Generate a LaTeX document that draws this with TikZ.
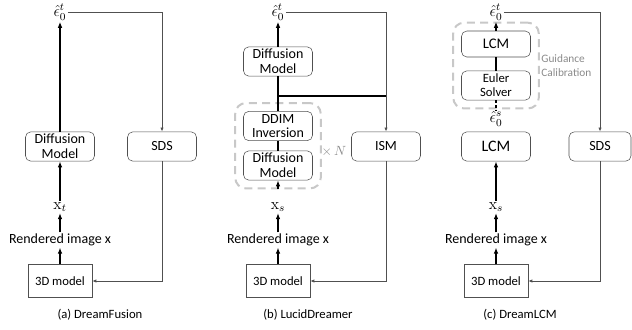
\documentclass[tikz,border=0pt]{standalone}
\usepackage{amsmath,amssymb}
\usepackage[no-math]{fontspec}
\setmainfont{Carlito}
\usepackage{tikz}
\usetikzlibrary{arrows.meta,positioning,calc,fit}
\definecolor{linegray}{HTML}{505050}
\definecolor{loopgray}{HTML}{C8C8C8}
\definecolor{notegray}{HTML}{8A8A8A}

\begin{document}
\begin{tikzpicture}[x=0.75pt,y=-0.75pt,
    blk/.style={draw=linegray,rounded corners=4pt,align=center,inner sep=0pt,
      minimum width=51.75pt,minimum height=22pt,font=\fontsize{10.5}{11}\selectfont},
    mdl/.style={draw=linegray,inner sep=0pt,minimum width=48pt,minimum height=25pt,
      font=\fontsize{9.5}{11}\selectfont},
    lbl/.style={inner sep=1pt,font=\fontsize{10.5}{12}\selectfont},
    sym/.style={inner sep=1pt,font=\fontsize{12}{14}\selectfont},
    subcap/.style={font=\fontsize{9.5}{11}\selectfont},
    dashbox/.style={draw=loopgray,line width=1.5pt,dash pattern=on 6pt off 4pt,
      rounded corners=8pt,inner sep=6pt},
    flow/.style={line width=1.1pt,-{Latex[length=4.5pt,width=3.5pt]}},
    link/.style={linegray,line width=0.6pt},
    back/.style={link,-{Latex[length=3pt,width=2.5pt]}}]
  \useasboundingbox (0,0) rectangle (632,329);

  % (a) DreamFusion
  \node[sym] (epsA) at (60,12) {$\hat{\epsilon}_0^t$};
  \node[blk] (diffA) at (60,146.5) {Diffusion\\Model};
  \node[blk] (sdsA) at (162,146.5) {SDS};
  \node[sym] (xA) at (60,207) {$\mathrm{x}_t$};
  \node[lbl] (renA) at (60,240) {Rendered image x};
  \node[mdl] (modA) at (60,281) {3D model};
  \node[subcap] (capA) at (100,315) {(a) DreamFusion};
  \draw[flow] (diffA) -- (epsA);
  \draw[flow] (xA) -- (diffA);
  \draw[flow,line width=0.8pt] (renA) -- (xA);
  \draw[flow,line width=0.8pt] (modA) -- (renA);
  \draw[back] (epsA) -| (sdsA);
  \draw[back] (sdsA) |- (modA);

  % (b) LucidDreamer
  \node[sym] (epsB) at (278,12) {$\hat{\epsilon}_0^t$};
  \node[blk] (diffB) at (278,61.5) {Diffusion\\Model};
  \node[blk] (ddimB) at (278,126) {DDIM\\Inversion};
  \node[blk] (diffLoB) at (278,165.5) {Diffusion\\Model};
  \node[dashbox,fit=(ddimB)(diffLoB)] (loopB) {};
  \node[text=notegray,font=\fontsize{10}{12}\selectfont] (repB) at (334,151) {$\times\,N$};
  \node[blk] (ismB) at (386,146.5) {ISM};
  \node[sym] (xB) at (278,207) {$\mathrm{x}_s$};
  \node[lbl] (renB) at (278,240) {Rendered image x};
  \node[mdl] (modB) at (278,281) {3D model};
  \node[subcap] (capB) at (308,315) {(b) LucidDreamer};
  \coordinate (jB) at (278,96);
  \draw[flow] (diffB) -- (epsB);
  \draw[line width=1.1pt] (diffB) -- (ddimB);
  \draw[line width=1.1pt] (jB) -- (jB -| ismB);
  \draw[line width=0.8pt] (ddimB) -- (diffLoB);
  \draw[flow,line width=0.8pt] (loopB.south -| diffLoB) -- (diffLoB);
  \draw[flow,line width=0.8pt] (renB) -- (xB);
  \draw[flow,line width=0.8pt] (modB) -- (renB);
  \draw[link] (epsB) -| (jB -| ismB);
  \draw[back] (jB -| ismB) -- (ismB);
  \draw[back] (ismB) |- (modB);

  % (c) DreamLCM
  \node[sym] (epsC) at (496,12) {$\hat{\epsilon}_0^t$};
  \node[blk,minimum height=19.5pt,font=\fontsize{11}{12}\selectfont] (lcmInC) at (496,44) {LCM};
  \node[blk,font=\fontsize{9.5}{10.5}\selectfont] (eulerC) at (496,85.5) {Euler\\Solver};
  \node[dashbox,fit=(lcmInC)(eulerC)] (calibC) {};
  \node[text=notegray,font=\fontsize{8.5}{10.5}\selectfont,align=left,anchor=west,inner sep=1pt]
    (noteC) at (calibC.east) {Guidance\\Calibration};
  \node[sym] (epsSC) at (496,119) {$\hat{\epsilon}_0^s$};
  \node[blk,font=\fontsize{12}{13}\selectfont] (lcmC) at (496,146.5) {LCM};
  \node[blk,minimum width=46.5pt] (sdsC) at (600,146.5) {SDS};
  \node[sym] (xC) at (496,207) {$\mathrm{x}_s$};
  \node[lbl] (renC) at (496,240) {Rendered image x};
  \node[mdl] (modC) at (496,281) {3D model};
  \node[subcap] (capC) at (520,315) {(c) DreamLCM};
  \draw[flow] (lcmInC) -- (epsC);
  \draw[line width=1.1pt] (eulerC) -- (lcmInC);
  \draw[line width=1.1pt,dash pattern=on 2pt off 1.5pt] (eulerC) -- (epsSC);
  \draw[flow] (xC) -- (lcmC);
  \draw[flow,line width=0.8pt] (renC) -- (xC);
  \draw[flow,line width=0.8pt] (modC) -- (renC);
  \draw[back] (epsC) -| (sdsC);
  \draw[back] (sdsC) |- (modC);
\end{tikzpicture}
\end{document}
